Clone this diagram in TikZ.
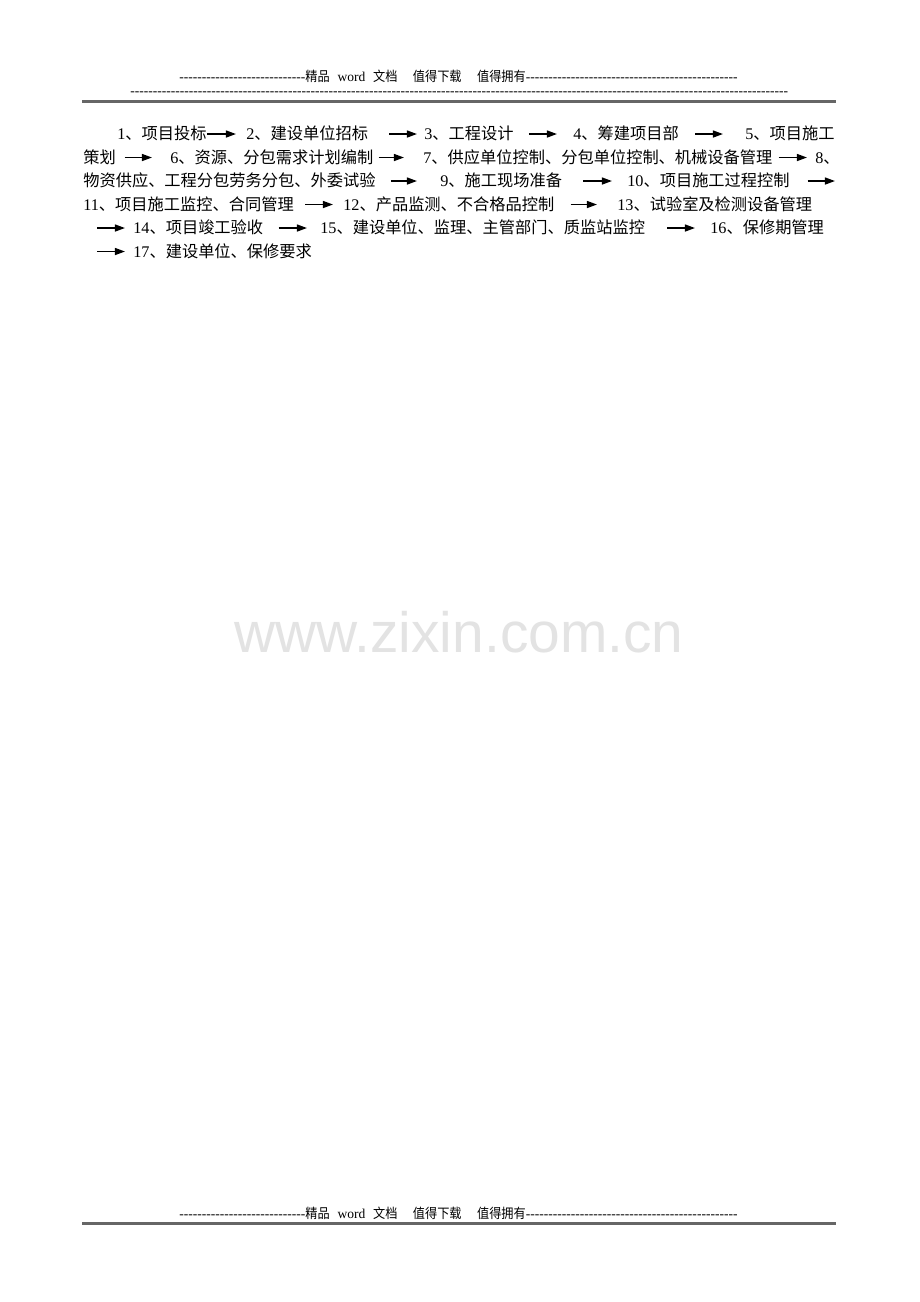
\documentclass[tikz,border=0pt]{standalone}
\usepackage{fontspec}
\setmainfont{Liberation Serif}
\newfontfamily\cjk{Noto Sans CJK SC}
\newfontfamily\cjkentete[FakeStretch=0.9]{Noto Sans CJK SC}
\newfontfamily\sansfiligrane{Liberation Sans}
\usetikzlibrary{arrows.meta}
\newlength\px
\setlength\px{0.6467pt}
\newcommand\lat[1]{{\rmfamily #1}}
\newcommand\tirets[1]{\foreach \i in {1,...,#1}{-}}
\newcommand\mention{\tirets{28}{\cjkentete 精品}\hspace{5pt}word\hspace{5pt}{\cjkentete 文档}\hspace{10pt}{\cjkentete 值得下载}\hspace{10pt}{\cjkentete 值得拥有}\tirets{47}}
\begin{document}
\begin{tikzpicture}[x=\px,y=-\px]
    \tikzset{etape/.style={inner sep=0pt, anchor=west, text height=0.88em, text depth=0.12em, font=\cjk\fontsize{10.5}{12}\selectfont}}
    \tikzset{fleche/.style={line width=1pt, -{Triangle[length=6.5pt,width=4.5pt]}}}
    \tikzset{entete/.style={inner sep=0pt, anchor=west, font=\fontsize{8.75}{10}\selectfont}}
    \tikzset{filet/.style={line width=1.6pt, black!60}}
    \tikzset{filigrane/.style={inner sep=0pt, anchor=base, text=black!11, font=\sansfiligrane\fontsize{36.8}{40}\selectfont}}
    \useasboundingbox[fill=white] (0,0) rectangle (920,1302);
    \node[filigrane] (site) at (459,652) {www.zixin.com.cn};
    \node[entete] (haut1) at (179,76) {\mention};
    \node[entete] (haut2) at (130,93.5) {\tirets{146}};
    \draw[filet] (82,101.5) -- (836,101.5);
    \node[entete] (bas) at (179,1213) {\mention};
    \draw[filet] (82,1223.5) -- (836,1223.5);
    \node[etape] (t1) at (117,134) {\lat{1}、项目投标};
    \node[etape] (t2) at (246,134) {\lat{2}、建设单位招标};
    \node[etape] (t3) at (424,134) {\lat{3}、工程设计};
    \node[etape] (t4) at (573,134) {\lat{4}、筹建项目部};
    \node[etape] (t5) at (745,134) {\lat{5}、项目施工};
    \node[etape] (t6) at (83,157.5) {策划};
    \node[etape] (t7) at (170,157.5) {\lat{6}、资源、分包需求计划编制};
    \node[etape] (t8) at (423,157.5) {\lat{7}、供应单位控制、分包单位控制、机械设备管理};
    \node[etape] (t9) at (815,157.5) {\lat{8}、};
    \node[etape] (t10) at (83,181) {物资供应、工程分包劳务分包、外委试验};
    \node[etape] (t11) at (440,181) {\lat{9}、施工现场准备};
    \node[etape] (t12) at (627,181) {\lat{10}、项目施工过程控制};
    \coordinate (c1) at (835,181);
    \node[etape] (t13) at (83,204.5) {\lat{11}、项目施工监控、合同管理};
    \node[etape] (t14) at (343,204.5) {\lat{12}、产品监测、不合格品控制};
    \node[etape] (t15) at (617,204.5) {\lat{13}、试验室及检测设备管理};
    \coordinate (c2) at (97,228);
    \node[etape] (t16) at (133,228) {\lat{14}、项目竣工验收};
    \node[etape] (t17) at (320,228) {\lat{15}、建设单位、监理、主管部门、质监站监控};
    \node[etape] (t18) at (710,228) {\lat{16}、保修期管理};
    \coordinate (c3) at (97,251.5);
    \node[etape] (t19) at (133,251.5) {\lat{17}、建设单位、保修要求};
    \draw[fleche, shorten <=0.5\px, shorten >=10\px] (t1.east) -- (t2.west);
    \draw[fleche, shorten <=21\px, shorten >=7\px] (t2.east) -- (t3.west);
    \draw[fleche, shorten <=15\px, shorten >=16\px] (t3.east) -- (t4.west);
    \draw[fleche, shorten <=16\px, shorten >=22\px] (t4.east) -- (t5.west);
    \draw[fleche, shorten <=8.5\px, shorten >=18\px] (t6.east) -- (t7.west);
    \draw[fleche, shorten <=5\px, shorten >=19\px] (t7.east) -- (t8.west);
    \draw[fleche, shorten <=6\px, shorten >=8\px] (t8.east) -- (t9.west);
    \draw[fleche, shorten <=15\px, shorten >=23\px] (t10.east) -- (t11.west);
    \draw[fleche, shorten <=21\px, shorten >=15\px] (t11.east) -- (t12.west);
    \draw[fleche, shorten <=17.6\px] (t12.east) -- (c1);
    \draw[fleche, shorten <=11\px, shorten >=10\px] (t13.east) -- (t14.west);
    \draw[fleche, shorten <=16\px, shorten >=20\px] (t14.east) -- (t15.west);
    \draw[fleche, shorten >=8\px] (c2) -- (t16.west);
    \draw[fleche, shorten <=15\px, shorten >=13\px] (t16.east) -- (t17.west);
    \draw[fleche, shorten <=22\px, shorten >=15\px] (t17.east) -- (t18.west);
    \draw[fleche, shorten >=8\px] (c3) -- (t19.west);
  \end{tikzpicture}
\end{document}
